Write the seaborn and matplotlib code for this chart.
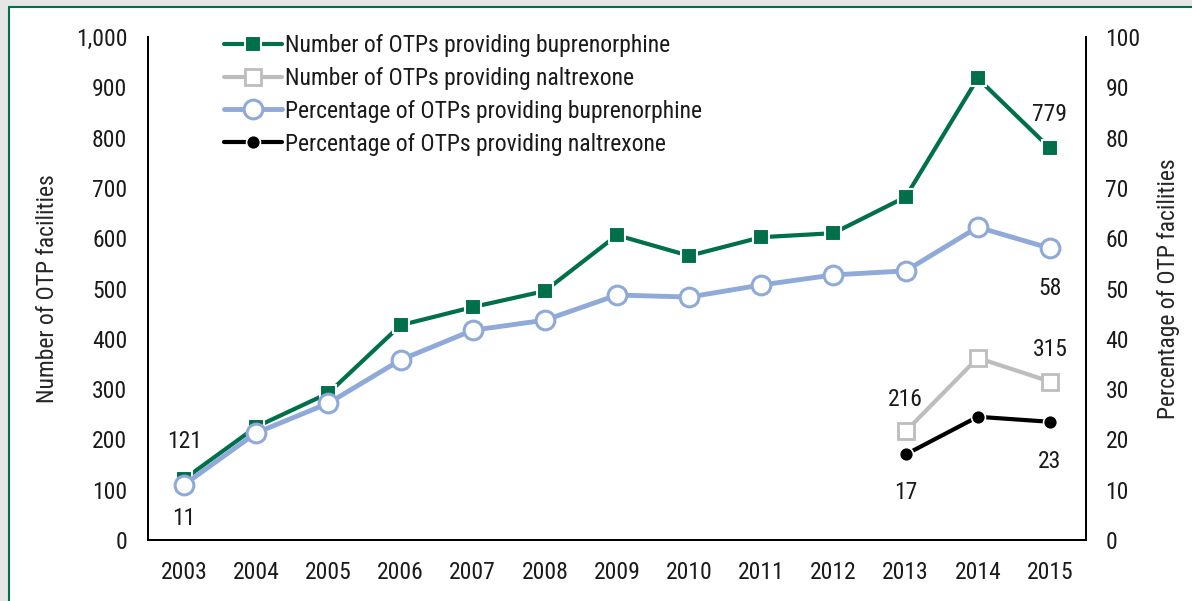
import matplotlib
matplotlib.use('Agg')
import matplotlib.pyplot as plt
import matplotlib.patches as patches
from matplotlib.lines import Line2D
from matplotlib.ticker import FuncFormatter
import seaborn as sns
import pandas as pd

# data
years = [2003, 2004, 2005, 2006, 2007, 2008, 2009, 2010, 2011, 2012, 2013, 2014, 2015]
bup_count = [121, 225, 292, 427, 463, 495, 606, 565, 602, 610, 682, 918, 779]
bup_pct = [11, 21.3, 27.2, 35.8, 41.7, 43.7, 48.7, 48.3, 50.7, 52.7, 53.5, 62.2, 58]
nal_years = [2013, 2014, 2015]
nal_count = [216, 362, 315]
nal_pct = [17, 24.5, 23.5]

labels = ['Number of OTPs providing buprenorphine',
          'Number of OTPs providing naltrexone',
          'Percentage of OTPs providing buprenorphine',
          'Percentage of OTPs providing naltrexone']

GREEN = '#00704A'
GRAY = '#BDBDBD'
BLUE = '#8FA9D8'
BLACK = '#000000'
FS = 17

sns.set_theme(style='white')
plt.rcParams['font.family'] = ['Roboto Condensed', 'Liberation Sans Narrow', 'Roboto', 'DejaVu Sans']
plt.rcParams['font.size'] = FS

df = pd.DataFrame({'year': years, 'bup_count': bup_count, 'bup_pct': bup_pct})
dn = pd.DataFrame({'year': nal_years, 'nal_count': nal_count, 'nal_pct': nal_pct})

fig = plt.figure(figsize=(11.92, 6.01), dpi=100)
fig.patch.set_facecolor('white')

# frame: gray strip + green rule on top and left
fig.add_artist(patches.Rectangle((0, 1 - 6 / 601), 1, 6 / 601, transform=fig.transFigure,
                                 facecolor='#E6E6E6', edgecolor='none'))
fig.add_artist(patches.Rectangle((0, 0), 8 / 1192, 1, transform=fig.transFigure,
                                 facecolor='#E6E6E6', edgecolor='none'))
fig.add_artist(Line2D([8.5 / 1192, 1], [1 - 6.5 / 601, 1 - 6.5 / 601], transform=fig.transFigure,
                      color=GREEN, lw=1.5))
fig.add_artist(Line2D([8.5 / 1192, 8.5 / 1192], [0, 1 - 6.5 / 601], transform=fig.transFigure,
                      color=GREEN, lw=1.5))

ax = fig.add_axes([148 / 1192, 1 - 540 / 601, 938 / 1192, 503 / 601])
ax2 = ax.twinx()

# left axis: counts
sns.lineplot(data=df, x='year', y='bup_count', ax=ax, color=GREEN, lw=3, marker='s',
             markersize=11, markeredgecolor='white', markeredgewidth=1.5, label=labels[0],
             legend=False)
sns.lineplot(data=dn, x='year', y='nal_count', ax=ax, color=GRAY, lw=3, marker='s',
             markersize=11, markerfacecolor='white', markeredgecolor=GRAY, markeredgewidth=2,
             label=labels[1], legend=False)

# right axis: percentages
sns.lineplot(data=df, x='year', y='bup_pct', ax=ax2, color=BLUE, lw=3.5, marker='o',
             markersize=13.5, markerfacecolor='white', markeredgecolor=BLUE, markeredgewidth=2.2,
             label=labels[2], legend=False)
sns.lineplot(data=dn, x='year', y='nal_pct', ax=ax2, color=BLACK, lw=3, marker='o',
             markersize=10, markeredgecolor='white', markeredgewidth=1.2,
             label=labels[3], legend=False)

for a in (ax, ax2):
    a.set_xlim(2002.5, 2015.5)
    a.set_facecolor('none')
    a.grid(False)
    a.spines['top'].set_visible(False)
    for s in ('left', 'right', 'bottom'):
        a.spines[s].set_color('black')
        a.spines[s].set_linewidth(1.3)

ax.set_ylim(0, 1000)
ax2.set_ylim(0, 100)
ax.set_yticks(range(0, 1001, 100))
ax2.set_yticks(range(0, 101, 10))
ax.yaxis.set_major_formatter(FuncFormatter(lambda v, p: f'{v:,.0f}'))
ax.set_xticks(years)
ax.set_xticklabels([str(y) for y in years])
ax.tick_params(axis='both', length=0, labelsize=FS, colors='#1a1a1a')
ax.tick_params(axis='y', pad=15)
ax.tick_params(axis='x', pad=15)
ax2.tick_params(axis='y', length=0, labelsize=FS, colors='#1a1a1a', pad=14)

ax.set_xlabel('')
ax.set_ylabel('Number of OTP facilities', fontsize=FS)
ax2.set_ylabel('Percentage of OTP facilities', fontsize=FS)
ax.yaxis.set_label_coords(-0.095, 0.5)
ax2.yaxis.set_label_coords(1.0757, 0.5)

# value labels
def note(a, text, x, y, dy):
    a.annotate(text, (x, y), xytext=(0, dy), textcoords='offset points', ha='center',
               va='bottom' if dy > 0 else 'top', fontsize=FS, color='#1a1a1a')

note(ax, f'{bup_count[0]}', years[0], bup_count[0], 19)
note(ax, f'{bup_count[-1]}', years[-1], bup_count[-1], 16)
note(ax2, f'{bup_pct[0]:.0f}', years[0], bup_pct[0], -16)
note(ax2, f'{bup_pct[-1]:.0f}', years[-1], bup_pct[-1], -21)
note(ax, f'{nal_count[0]}', nal_years[0], nal_count[0], 15)
note(ax, f'{nal_count[-1]}', nal_years[-1], nal_count[-1], 15)
note(ax2, f'{nal_pct[0]:.0f}', nal_years[0], nal_pct[0], -19)
note(ax2, f'{int(nal_pct[-1])}', nal_years[-1], nal_pct[-1], -20)

h1, l1 = ax.get_legend_handles_labels()
h2, l2 = ax2.get_legend_handles_labels()
leg = ax2.legend(h1 + h2, l1 + l2, loc='upper left', bbox_to_anchor=(0.071, 1.025), frameon=False,
                 fontsize=FS, handlelength=2.45, handletextpad=0.12, labelspacing=0.42,
                 borderaxespad=0, numpoints=1)
for t in leg.get_texts():
    t.set_color('#1a1a1a')

fig.savefig('out.png', dpi=100)
